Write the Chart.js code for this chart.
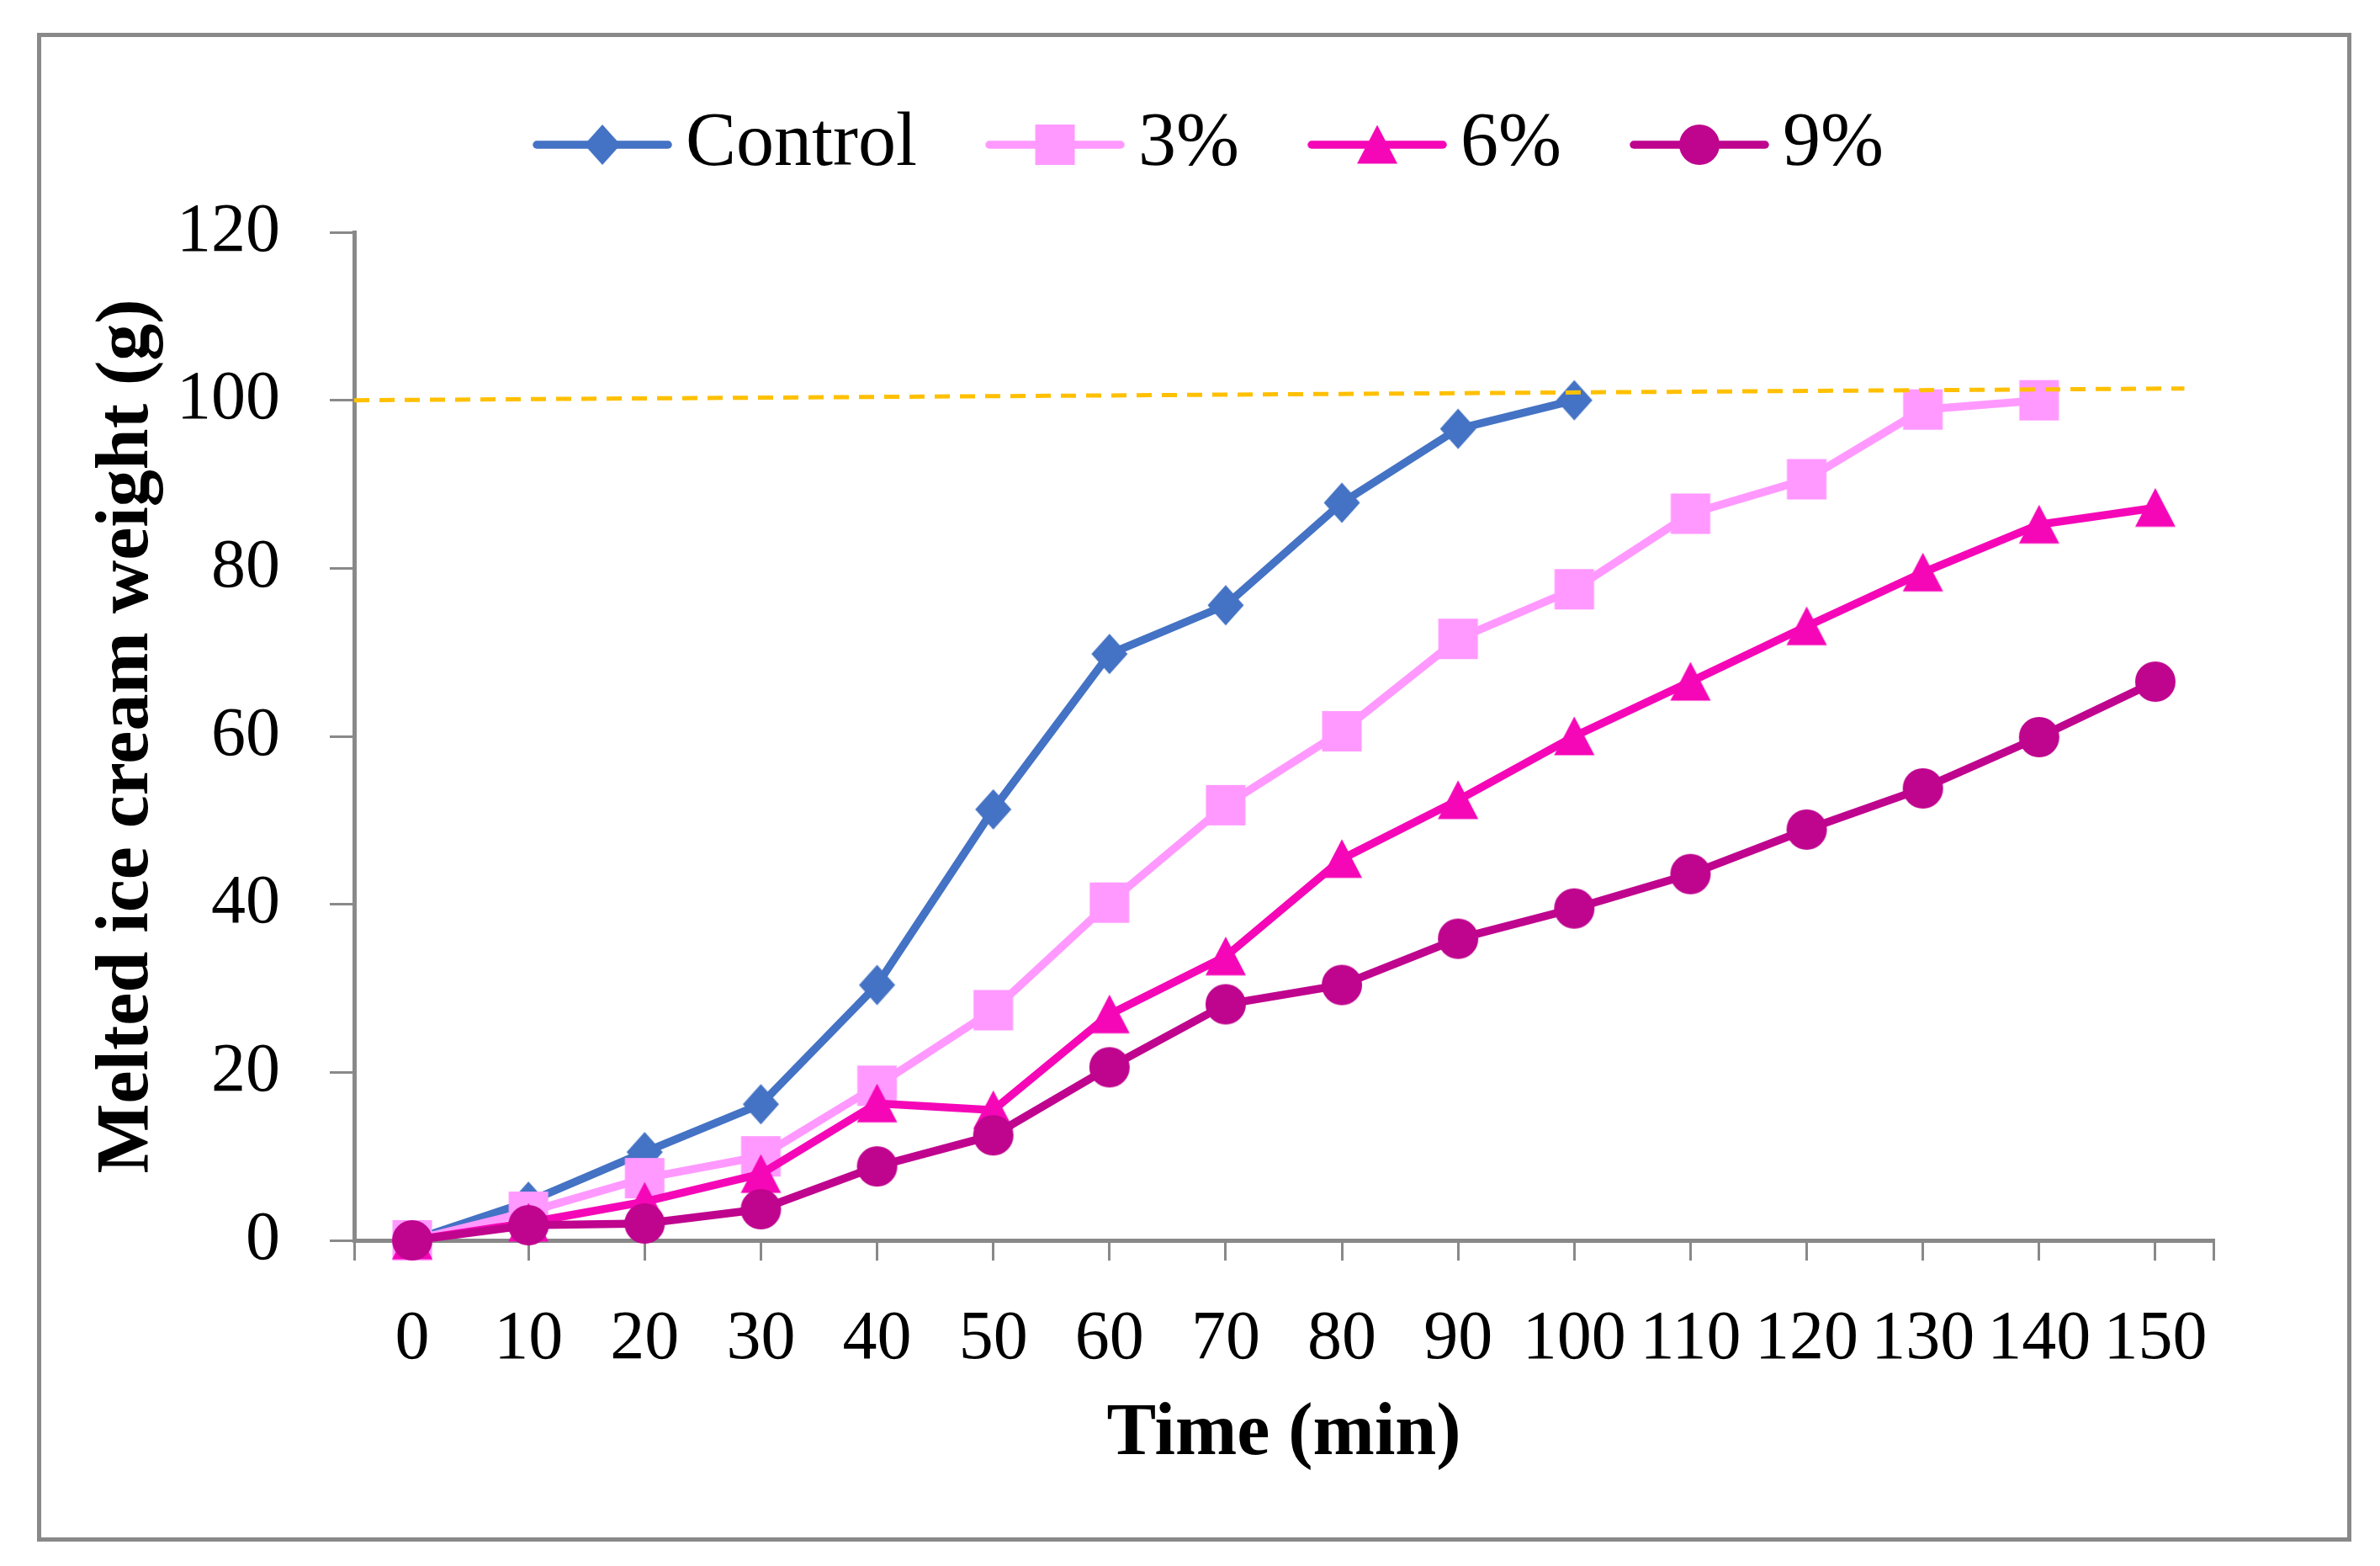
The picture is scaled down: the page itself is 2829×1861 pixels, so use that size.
<!DOCTYPE html>
<html>
<head>
<meta charset="utf-8">
<title>Melted ice cream weight</title>
<script src="https://cdn.jsdelivr.net/npm/chart.js@4.4.1/dist/chart.umd.min.js"></script>
<style>
    html, body { margin: 0; padding: 0; background: #fff; }
    #wrap { position: relative; width: 2829px; height: 1861px; }
    #frame {
        position: absolute; left: 44px; top: 39px;
        width: 2751px; height: 1793px;
        border: 5px solid #898989; box-sizing: border-box;
    }
    #chart { position: absolute; left: 0; top: 0; }
</style>
</head>
<body>
<div id="wrap">
    <div id="frame"></div>
    <canvas id="chart" width="2829" height="1861"></canvas>
</div>
<script>
// datos
var times = [0, 10, 20, 30, 40, 50, 60, 70, 80, 90, 100, 110, 120, 130, 140, 150];
var controlValues = [0, 4.6, 10.5, 16.2, 30.4, 51.3, 69.8, 75.6, 87.8, 96.6, 100];
var pct3Values = [0, 3.4, 7.4, 10.0, 18.4, 27.4, 40.2, 51.8, 60.6, 71.6, 77.5, 86.5, 90.6, 98.9, 100];
var pct6Values = [0, 2.1, 4.6, 7.9, 16.3, 15.5, 26.9, 33.8, 45.4, 52.4, 60.0, 66.5, 73.1, 79.5, 85.2, 87.2];
var pct9Values = [0, 1.8, 2.0, 3.7, 8.8, 12.5, 20.6, 28.1, 30.4, 35.9, 39.5, 43.6, 48.9, 53.8, 59.9, 66.5];
var seriesLabels = ["Control", "3%", "6%", "9%"];
var seriesColors = ["#4472C4", "#FF99FF", "#F507B7", "#BF048E"];
var seriesShapes = ["diamond", "square", "triangle", "circle"];
var refLineX = [-5, 152.5];
var refLineY = [100, 101.4];
var yTicks = [0, 20, 40, 60, 80, 100, 120];

var FONT = "'Liberation Serif', 'Times New Roman', serif";

function drawMarker(ctx, shape, cx, cy, color) {
    ctx.fillStyle = color;
    ctx.beginPath();
    if (shape === "diamond") {
        ctx.moveTo(cx, cy - 24);
        ctx.lineTo(cx + 21.5, cy);
        ctx.lineTo(cx, cy + 24);
        ctx.lineTo(cx - 21.5, cy);
        ctx.closePath();
    } else if (shape === "square") {
        ctx.rect(cx - 23.5, cy - 24, 47, 48);
    } else if (shape === "triangle") {
        ctx.moveTo(cx, cy - 23.5);
        ctx.lineTo(cx + 24, cy + 22.5);
        ctx.lineTo(cx - 24, cy + 22.5);
        ctx.closePath();
    } else {
        ctx.ellipse(cx, cy, 24, 24, 0, 0, Math.PI * 2);
    }
    ctx.fill();
}

function makePointCanvas(shape, color) {
    var c = document.createElement("canvas");
    c.width = 52;
    c.height = 52;
    drawMarker(c.getContext("2d"), shape, 26, 26, color);
    return c;
}

function makeLegendCanvas(shape, color) {
    var c = document.createElement("canvas");
    c.width = 166;
    c.height = 52;
    var ctx = c.getContext("2d");
    ctx.strokeStyle = color;
    ctx.lineWidth = 9.5;
    ctx.lineCap = "round";
    ctx.beginPath();
    ctx.moveTo(5, 26);
    ctx.lineTo(161, 26);
    ctx.stroke();
    drawMarker(ctx, shape, 83, 26, color);
    return c;
}

function toPoints(values) {
    return values.map(function (v, i) {
        return { x: times[i], y: v };
    });
}

var seriesValues = [controlValues, pct3Values, pct6Values, pct9Values];

var datasets = seriesValues.map(function (values, i) {
    return {
        label: seriesLabels[i],
        data: toPoints(values),
        borderColor: seriesColors[i],
        backgroundColor: seriesColors[i],
        borderWidth: 9.5,
        pointStyle: makePointCanvas(seriesShapes[i], seriesColors[i]),
        pointRadius: 24,
        pointHoverRadius: 24,
        tension: 0,
        clip: false,
        order: 4 - i,
    };
});

// linea de referencia punteada
datasets.push({
    label: "",
    data: refLineX.map(function (x, i) {
        return { x: x, y: refLineY[i] };
    }),
    borderColor: "#FFC000",
    borderWidth: 5,
    borderDash: [18, 12],
    pointRadius: 0,
    clip: false,
    order: 0,
});

var legendIcons = seriesLabels.map(function (l, i) {
    return makeLegendCanvas(seriesShapes[i], seriesColors[i]);
});

var xTickValues = [-5].concat(times, [155]);

new Chart(document.getElementById("chart"), {
    type: "line",
    data: { datasets: datasets },
    options: {
        responsive: false,
        devicePixelRatio: 1,
        animation: false,
        layout: {
            padding: { top: 17, left: 72, right: 0, bottom: 103 },
        },
        plugins: {
            tooltip: { enabled: false },
            legend: {
                position: "top",
                labels: {
                    usePointStyle: true,
                    pointStyleWidth: 108,
                    padding: 110,
                    color: "#000",
                    font: { family: FONT, size: 90 },
                    generateLabels: function (chart) {
                        return chart.data.datasets
                            .map(function (ds, i) {
                                return {
                                    text: ds.label,
                                    fillStyle: ds.borderColor,
                                    strokeStyle: ds.borderColor,
                                    lineWidth: 0,
                                    pointStyle: legendIcons[i],
                                    hidden: false,
                                    datasetIndex: i,
                                };
                            })
                            .filter(function (item) {
                                return item.text;
                            });
                    },
                },
            },
        },
        scales: {
            x: {
                type: "linear",
                position: "bottom",
                min: -5,
                max: 155,
                afterBuildTicks: function (scale) {
                    scale.ticks = xTickValues.map(function (v) {
                        return { value: v };
                    });
                },
                afterFit: function (scale) {
                    scale.height = 284;
                },
                grid: {
                    drawOnChartArea: false,
                    tickLength: 24,
                    color: "#898989",
                    lineWidth: 3,
                },
                border: { color: "#898989", width: 5 },
                ticks: {
                    autoSkip: false,
                    maxRotation: 0,
                    minRotation: 0,
                    padding: 45,
                    color: "#000",
                    font: { family: FONT, size: 82 },
                    callback: function (value) {
                        return times.indexOf(value) >= 0 ? String(value) : "";
                    },
                },
                title: {
                    display: true,
                    text: "Time (min)",
                    color: "#000",
                    font: { family: FONT, size: 88, weight: "bold" },
                    padding: { top: 0, bottom: 0 },
                },
            },
            xTop: {
                type: "linear",
                position: "top",
                grid: { display: false, drawTicks: false },
                border: { display: false },
                ticks: { display: false },
                afterFit: function (scale) {
                    scale.height = 49;
                },
            },
            y: {
                type: "linear",
                position: "left",
                min: 0,
                max: 120,
                afterBuildTicks: function (scale) {
                    scale.ticks = yTicks.map(function (v) {
                        return { value: v };
                    });
                },
                afterFit: function (scale) {
                    scale.width = 349;
                },
                grid: {
                    drawOnChartArea: false,
                    tickLength: 29,
                    color: "#898989",
                    lineWidth: 3,
                },
                border: { color: "#898989", width: 5 },
                ticks: {
                    padding: 59,
                    color: "#000",
                    font: { family: FONT, size: 82 },
                },
                title: {
                    display: true,
                    text: "Melted ice cream weight (g)",
                    color: "#000",
                    font: { family: FONT, size: 88, weight: "bold" },
                    padding: { top: 27, bottom: 0 },
                },
            },
            yRight: {
                type: "linear",
                position: "right",
                grid: { display: false, drawTicks: false },
                border: { display: false },
                ticks: { display: false },
                afterFit: function (scale) {
                    scale.width = 198;
                },
            },
        },
    },
});
</script>
</body>
</html>
